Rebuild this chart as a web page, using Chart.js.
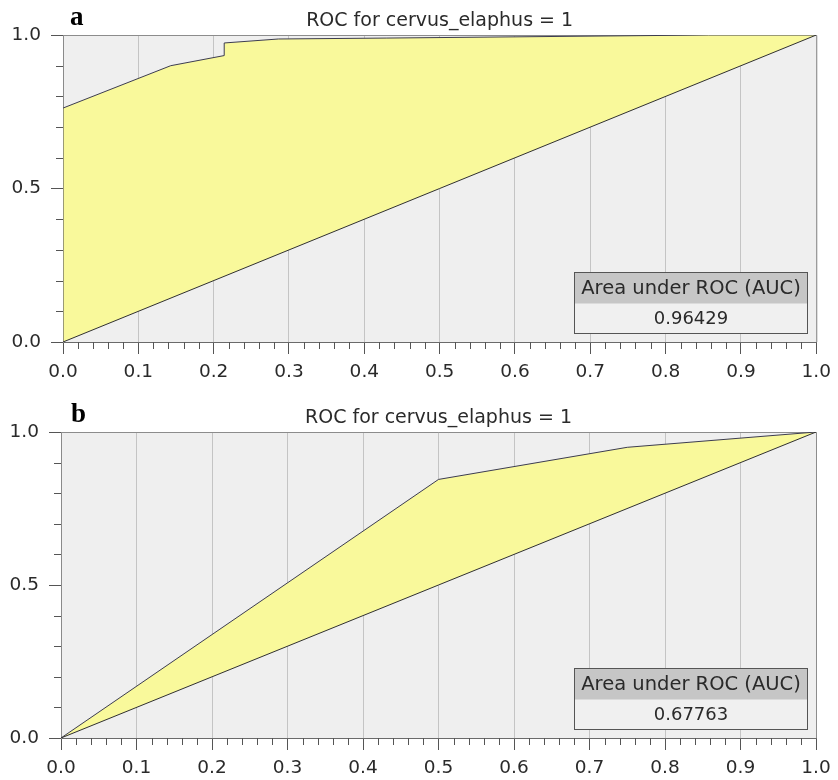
<!DOCTYPE html>
<html>
<head>
<meta charset="utf-8">
<script src="https://cdn.jsdelivr.net/npm/chart.js@4.4.0/dist/chart.umd.min.js"></script>
<style>
  body { margin: 0; background: #fff; }
  #wrap { position: relative; width: 838px; height: 780px; }
  canvas { position: absolute; left: 0; }
</style>
</head>
<body>
<div id="wrap">
  <canvas id="rocA" width="838" height="390" style="top:0"></canvas>
  <canvas id="rocB" width="838" height="390" style="top:390px"></canvas>
</div>
<script>
// panel a
const fprA = [0, 0, 0.143, 0.214, 0.214, 0.286, 0.429, 0.857, 1];
const tprA = [0, 0.762, 0.9, 0.933, 0.974, 0.987, 0.99, 1, 1];
const aucA = '0.96429';

// panel b
const fprB = [0, 0.5, 0.75, 1];
const tprB = [0, 0.845, 0.95, 1];
const aucB = '0.67763';

// chance line
const diagX = [0, 1];
const diagY = [0, 1];

const titleText = 'ROC for cervus_elaphus = 1';
const aucLabel = 'Area under ROC (AUC)';

Chart.defaults.font.family = '"DejaVu Sans", sans-serif';

function pts(xs, ys) {
    return xs.map((x, i) => ({x: x, y: ys[i]}));
}

// background, frame, minor ticks, title, letter and AUC box
const rocDeco = {
    id: 'rocDeco',
    beforeDraw(chart) {
        const {ctx, chartArea: a} = chart;
        ctx.save();
        ctx.fillStyle = '#efefef';
        ctx.fillRect(a.left, a.top, a.right - a.left, a.bottom - a.top);
        ctx.restore();
    },
    beforeDatasetsDraw(chart) {
        const {ctx, chartArea: a} = chart;
        const xs = chart.scales.x, ys = chart.scales.y;
        ctx.save();
        ctx.lineWidth = 1;
        ctx.strokeStyle = '#8c8c8c';
        ctx.beginPath();
        ctx.moveTo(a.left, a.top + 0.5);
        ctx.lineTo(a.right + 0.5, a.top + 0.5);
        ctx.lineTo(a.right + 0.5, a.bottom);
        ctx.stroke();

        ctx.strokeStyle = '#555';
        ctx.beginPath();
        for (let i = 1; i < 50; i++) {
            if (i % 5 === 0) continue;
            const px = Math.round(xs.getPixelForValue(i / 50)) + 0.5;
            ctx.moveTo(px, a.bottom);
            ctx.lineTo(px, a.bottom + 7);
        }
        for (let i = 1; i < 10; i++) {
            if (i === 5) continue;
            const py = Math.round(ys.getPixelForValue(i / 10)) + 0.5;
            ctx.moveTo(a.left - 7, py);
            ctx.lineTo(a.left, py);
        }
        ctx.stroke();
        ctx.restore();
    },
    afterDraw(chart, args, opts) {
        const {ctx, chartArea: a} = chart;
        ctx.save();
        // title
        ctx.fillStyle = '#2a2a2a';
        ctx.font = '19px "DejaVu Sans"';
        ctx.textAlign = 'center';
        ctx.textBaseline = 'alphabetic';
        ctx.fillText(titleText, (a.left + a.right) / 2, a.top - 9);

        // panel letter
        ctx.fillStyle = '#000';
        ctx.font = 'bold 27px "Liberation Serif"';
        ctx.textAlign = 'left';
        ctx.fillText(opts.letter, opts.letterX, a.top - 10);

        // AUC box
        const w = 233, h = 61, hh = 31;
        const x0 = Math.round(a.right - 9 - w) + 0.5;
        const y0 = Math.round(a.bottom - 9 - h) + 0.5;
        ctx.fillStyle = '#f0f0f0';
        ctx.fillRect(x0, y0, w, h);
        ctx.fillStyle = '#c6c6c6';
        ctx.fillRect(x0, y0, w, hh);
        ctx.strokeStyle = '#555';
        ctx.lineWidth = 1;
        ctx.strokeRect(x0, y0, w, h);
        ctx.fillStyle = '#2a2a2a';
        ctx.textAlign = 'center';
        ctx.textBaseline = 'middle';
        ctx.font = '19.5px "DejaVu Sans"';
        ctx.fillText(aucLabel, x0 + w / 2, y0 + hh / 2 + 1);
        ctx.font = '18px "DejaVu Sans"';
        ctx.fillText(opts.auc, x0 + w / 2, y0 + hh + (h - hh) / 2 + 1);
        ctx.restore();
    }
};

function makeRoc(id, fpr, tpr, deco, g) {
    return new Chart(document.getElementById(id).getContext('2d'), {
        type: 'line',
        data: {
            datasets: [{
                data: pts(diagX, diagY),
                borderColor: '#303030',
                borderWidth: 1,
                pointRadius: 0,
                fill: false
            }, {
                data: pts(fpr, tpr),
                borderColor: '#3c3c50',
                borderWidth: 1,
                pointRadius: 0,
                tension: 0,
                fill: 0,
                backgroundColor: '#f9f99b'
            }]
        },
        options: {
            responsive: false,
            animation: false,
            events: [],
            layout: {padding: {left: 0, right: g.right, top: g.top, bottom: 0}},
            plugins: {
                legend: {display: false},
                tooltip: {enabled: false},
                rocDeco: deco
            },
            scales: {
                x: {
                    type: 'linear', min: 0, max: 1,
                    afterFit(s) { s.height = g.xh; },
                    ticks: {
                        stepSize: 0.1, autoSkip: false, maxRotation: 0,
                        callback: v => v.toFixed(1),
                        color: '#2a2a2a', font: {size: 18.5}, padding: 7
                    },
                    grid: {color: '#c4c4c4', tickColor: '#555', tickLength: 12},
                    border: {color: '#6a6a6a'}
                },
                y: {
                    type: 'linear', min: 0, max: 1,
                    afterFit(s) { s.width = g.yw; },
                    ticks: {
                        stepSize: 0.5,
                        callback: v => v.toFixed(1),
                        color: '#2a2a2a', font: {size: 18.5}, padding: 10
                    },
                    grid: {drawOnChartArea: false, tickColor: '#555', tickLength: 12},
                    border: {color: '#8a8a8a'}
                }
            }
        },
        plugins: [rocDeco]
    });
}

makeRoc('rocA', fprA, tprA, {letter: 'a', letterX: 70, auc: aucA},
    {yw: 63, xh: 48, top: 35, right: 18});
makeRoc('rocB', fprB, tprB, {letter: 'b', letterX: 71, auc: aucB},
    {yw: 61, xh: 42, top: 42, right: 22});
</script>
</body>
</html>
